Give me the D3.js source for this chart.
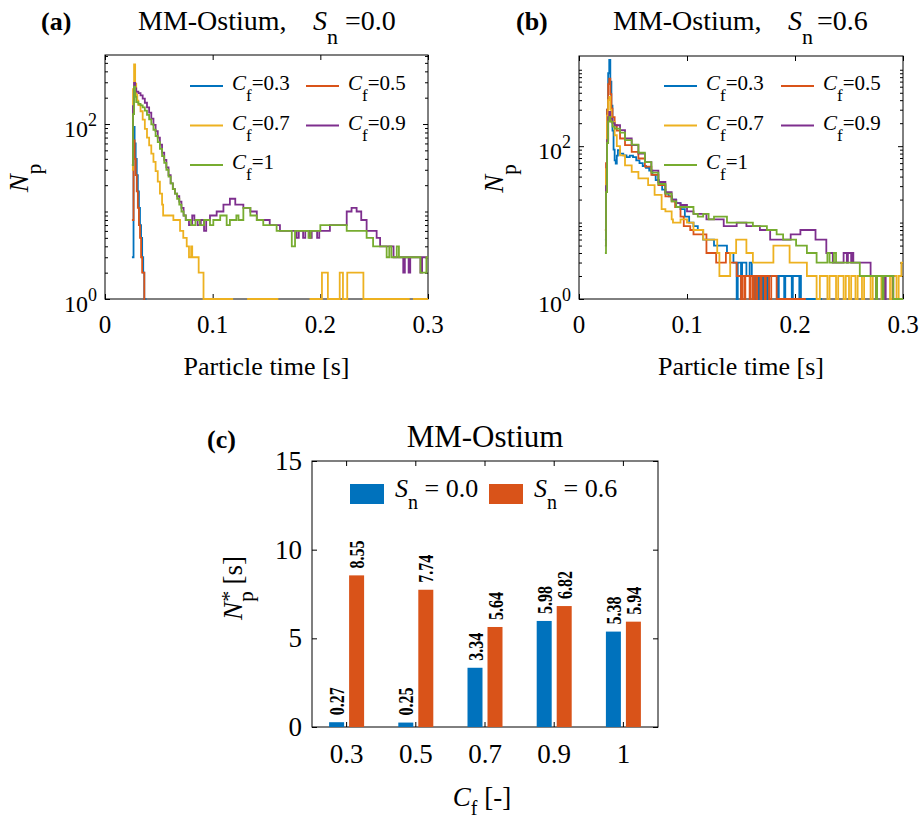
<!DOCTYPE html>
<html>
<head>
<meta charset="utf-8">
<script src="https://cdn.jsdelivr.net/npm/d3@7"></script>
<style>
  body { margin: 0; background: #fff; }
  svg text { font-family: "Liberation Serif", "Times New Roman", serif; fill: #000; }
</style>
</head>
<body>
<svg id="fig" width="919" height="822"></svg>
<script>
// ---- data ----
var cfNames = ["0.3", "0.5", "0.7", "0.9", "1"];
var lineColors = ["#0072BD", "#D95319", "#EDB120", "#7E2F8E", "#77AC30"];
var timeTicks = [0, 0.1, 0.2, 0.3];
var timeTickLabels = ["0", "0.1", "0.2", "0.3"];
var npTicks = [1, 100];
var npTickExp = ["0", "2"];

// panel (a), Sn = 0.0 : [time (s), particle count], null = no particles
var a03 = [[0.025,3],[0.0265,93],[0.0275,60],[0.0285,40],[0.0295,26],[0.0305,17],[0.0315,11],[0.0325,7],[0.0335,5],[0.0345,3],[0.0355,2],[0.0365,1],[0.0385,1]];
var a05 = [[0.025,8],[0.0265,65],[0.0275,40],[0.0285,26],[0.0295,17],[0.0305,11],[0.0315,7],[0.0325,5],[0.0335,3],[0.0345,2],[0.0355,2],[0.0365,1],[0.0375,1]];
var a07 = [[0.025,30],[0.026,250],[0.027,480],[0.028,290],[0.029,215],[0.030,185],[0.031,165],[0.033,140],[0.035,112],[0.037,88],[0.039,70],[0.041,57],[0.043,46],[0.045,37],[0.047,29],[0.049,22],[0.051,16],[0.053,12],[0.054,9],[0.0635,8],[0.0697,6],[0.0727,5],[0.0759,4],[0.078,3],[0.080,4],[0.081,3],[0.087,2],[0.0915,1],[0.119,1],[0.119,null],
  [0.132,1],[0.161,1],[0.161,null],[0.190,1],[0.2015,1],[0.2015,2],[0.207,1],[0.218,2],[0.221,1],[0.225,2],[0.240,1],[0.283,1],[0.283,null],[0.286,1],[0.300,1]];
var a09 = [[0.025,34],[0.026,160],[0.027,295],[0.028,255],[0.029,235],[0.031,225],[0.033,212],[0.035,195],[0.037,175],[0.039,155],[0.041,135],[0.043,115],[0.045,98],[0.047,83],[0.049,70],[0.051,58],[0.053,47],[0.055,39],[0.057,32],[0.059,26],[0.061,21],[0.063,18],[0.065,16],[0.067,15],[0.069,13],[0.071,11],[0.073,9],[0.075,8],[0.078,7],[0.081,9],[0.083,8],[0.086,7],[0.089,8],[0.092,6],[0.094,8],
  [0.0975,9],[0.1037,10],[0.110,12],[0.116,14],[0.121,12],[0.1285,11],[0.135,10],[0.141,8],[0.153,7],[0.1625,6],[0.178,5],[0.180,6],[0.184,5],[0.186,6],[0.190,5],[0.192,6],[0.197,5],[0.199,6],[0.2089,7],[0.2245,10],[0.229,11],[0.2337,10],[0.238,8],[0.243,6],[0.2523,5],[0.2555,4],[0.268,3],[0.277,2],[0.2785,3],[0.282,2],[0.2835,3],[0.293,2],[0.2945,3],[0.300,3]];
var a10 = [[0.025,34],[0.026,130],[0.027,268],[0.028,205],[0.029,178],[0.031,170],[0.033,163],[0.035,155],[0.037,142],[0.039,127],[0.041,113],[0.043,99],[0.045,86],[0.047,73],[0.049,62],[0.051,52],[0.053,43],[0.055,36],[0.057,30],[0.059,25],[0.061,21],[0.063,18],[0.065,16],[0.067,14],[0.069,12],[0.071,10],[0.073,9],[0.075,8],[0.080,7],[0.084,8],[0.088,7],[0.092,8],
  [0.0975,7],[0.1006,8],[0.107,9],[0.113,7],[0.116,8],[0.122,9],[0.124,8],[0.1285,11],[0.135,9],[0.141,8],[0.147,7],[0.1594,6],[0.1735,4],[0.1765,6],[0.189,5],[0.191,6],[0.200,7],[0.2245,6],[0.243,5],[0.249,4],[0.2616,3],[0.264,4],[0.266,3],[0.271,4],[0.273,3],[0.293,2],[0.2985,3],[0.300,3]];

// panel (b), Sn = 0.6
var b03 = [[0.024,6],[0.025,40],[0.026,300],[0.027,900],[0.028,1350],[0.029,700],[0.030,340],[0.031,160],[0.032,90],[0.033,65],[0.034,59],[0.035,75],[0.036,89],[0.038,80],[0.041,76],[0.044,72],[0.047,75],[0.050,72],[0.053,65],[0.056,60],[0.059,55],[0.062,52],[0.065,48],[0.068,42],[0.071,36],[0.074,31],[0.077,27],[0.080,24],[0.083,22],[0.086,20],[0.090,18],[0.094,15],[0.098,12],[0.102,10],[0.106,9],[0.110,8],[0.115,6],[0.125,5],[0.137,4],[0.143,3],
  [0.146,1],[0.147,3],[0.150,1],[0.151,3],[0.155,2],[0.158,3],[0.160,2],[0.162,1],[0.163,2],[0.166,1],[0.167,2],[0.170,1],[0.171,2],[0.174,1],[0.175,2],[0.184,1],[0.185,2],[0.190,1],[0.191,2],[0.197,1],[0.198,2],[0.204,1],[0.205,2],[0.2055,1],[0.225,1],[0.225,null]];
var b05 = [[0.024,8],[0.025,60],[0.026,300],[0.027,650],[0.028,767],[0.029,480],[0.030,310],[0.031,240],[0.033,188],[0.035,160],[0.038,126],[0.0426,103],[0.0488,84],[0.055,69],[0.061,54],[0.067,42],[0.0735,31],[0.080,22],[0.0858,19],[0.089,16],[0.094,12],[0.097,9],[0.103,8],[0.106,7],[0.118,4],[0.127,3],[0.136,4],[0.140,3],[0.146,2],
  [0.150,1],[0.151,2],[0.153,1],[0.154,2],[0.158,1],[0.159,2],[0.161,1],[0.162,2],[0.164,1],[0.165,2],[0.168,1],[0.169,2],[0.172,1],[0.173,2],[0.176,1],[0.178,2],[0.183,1],[0.210,1],[0.210,null]];
var b07 = [[0.024,8],[0.025,50],[0.026,250],[0.027,400],[0.028,441],[0.029,300],[0.030,208],[0.033,139],[0.035,100],[0.038,76],[0.0426,56],[0.0488,46],[0.055,38],[0.064,31],[0.070,23],[0.0765,15],[0.080,14],[0.0858,11],[0.087,10],[0.094,11],[0.100,10],[0.106,8],[0.115,6],[0.128,4],[0.130,2],[0.140,4],[0.1455,6],[0.155,4],[0.161,3],[0.180,5],[0.195,3],[0.211,2],
  [0.220,1],[0.223,2],[0.230,1],[0.232,2],[0.238,1],[0.240,2],[0.245,1],[0.247,2],[0.250,1],[0.252,2],[0.256,1],[0.258,2],[0.262,1],[0.264,2],[0.270,1],[0.272,2],[0.280,1],[0.282,2],[0.288,1],[0.290,2],[0.294,1],[0.296,2],[0.2985,3],[0.300,3]];
var b09 = [[0.024,5],[0.025,30],[0.026,120],[0.027,240],[0.028,280],[0.029,230],[0.031,200],[0.033,188],[0.038,162],[0.0426,126],[0.0488,103],[0.055,80],[0.061,62],[0.067,48],[0.0735,34],[0.080,25],[0.0858,20],[0.090,18],[0.094,17],[0.100,14],[0.106,13],[0.118,11],[0.134,9],[0.146,10],[0.155,9],[0.1675,8],[0.177,6],[0.196,7],[0.205,8],[0.219,6],
  [0.229,4],[0.235,3],[0.245,4],[0.248,3],[0.249,4],[0.252,3],[0.253,4],[0.254,3],[0.270,2],[0.275,1],[0.276,2],[0.283,1],[0.284,2],[0.291,1],[0.300,1]];
var b10 = [[0.024,4],[0.025,25],[0.026,110],[0.027,210],[0.028,241],[0.029,210],[0.031,180],[0.033,170],[0.038,150],[0.0426,120],[0.0488,105],[0.055,82],[0.061,62],[0.067,45],[0.0735,32],[0.080,24],[0.0858,19],[0.090,16],[0.106,13],[0.110,12],[0.115,13],[0.120,11],[0.125,12],[0.137,10],[0.161,9],[0.174,8],[0.183,7],[0.189,6],[0.201,5],[0.211,4],[0.220,3],
  [0.230,4],[0.232,3],[0.236,4],[0.238,3],[0.260,2],[0.275,1],[0.276,2],[0.280,2],[0.281,1],[0.282,2],[0.291,1],[0.300,1]];

// panel (c)
var barCats = ["0.3", "0.5", "0.7", "0.9", "1"];
var snNames = ["0.0", "0.6"];
var npStarSn00 = [0.27, 0.25, 3.34, 5.98, 5.38];
var npStarSn06 = [8.55, 7.74, 5.64, 6.82, 5.94];
var barColors = ["#0072BD", "#D95319"];
var barTicks = [0, 5, 10, 15];

// ---- drawing ----
var svg = d3.select("#fig");

// text with italic / sub / superscript pieces
function rich(parent, x, y, size, anchor, parts) {
  var t = parent.append("text")
    .attr("x", x).attr("y", y)
    .attr("font-size", size)
    .attr("text-anchor", anchor)
    .style("white-space", "pre");
  var cur = 0;
  parts.forEach(function(p) {
    var off = p.off || 0;
    var ts = t.append("tspan").text(p.t).attr("dy", off - cur);
    cur = off;
    if (p.size) ts.attr("font-size", p.size);
    if (p.it) ts.attr("font-style", "italic");
    if (p.b) ts.attr("font-weight", "bold");
    if (p.dx) ts.attr("dx", p.dx);
    if (p.x != null) ts.attr("x", p.x);
  });
  return t;
}

function innerTicks(g, axisFn, scale, values, len, tx, ty) {
  g.append("g")
    .attr("transform", "translate(" + tx + "," + ty + ")")
    .call(axisFn(scale).tickValues(values).tickSize(-len).tickSizeOuter(0).tickFormat(""))
    .call(function(s) { s.select(".domain").remove(); });
}

function logPanel(p) {
  var x = d3.scaleLinear().domain([0, 0.3]).range([p.left, p.right]);
  var y = d3.scaleLog().domain([1, p.ymax]).range([p.bottom, p.top]);
  var g = svg.append("g");

  g.append("clipPath").attr("id", p.id)
    .append("rect").attr("x", p.left).attr("y", p.top)
    .attr("width", p.right - p.left).attr("height", p.bottom - p.top + 1.5);

  g.append("rect")
    .attr("x", p.left).attr("y", p.top)
    .attr("width", p.right - p.left).attr("height", p.bottom - p.top)
    .attr("fill", "none").attr("stroke", "#000").attr("stroke-width", 1);

  var minor = y.ticks().filter(function(v) { return npTicks.indexOf(v) < 0; });
  innerTicks(g, d3.axisLeft, y, minor, 3, p.left, 0);
  innerTicks(g, d3.axisRight, y, minor, 3, p.right, 0);
  innerTicks(g, d3.axisLeft, y, npTicks, 5, p.left, 0);
  innerTicks(g, d3.axisRight, y, npTicks, 5, p.right, 0);
  innerTicks(g, d3.axisBottom, x, timeTicks, 5, 0, p.bottom);
  innerTicks(g, d3.axisTop, x, timeTicks, 5, 0, p.top);

  var line = d3.line()
    .defined(function(d) { return d[1] != null; })
    .x(function(d) { return x(d[0]); })
    .y(function(d) { return y(d[1]); })
    .curve(d3.curveStepAfter);

  g.append("g").attr("clip-path", "url(#" + p.id + ")")
    .selectAll("path").data(p.series).enter().append("path")
    .attr("d", line)
    .attr("fill", "none")
    .attr("stroke", function(d, i) { return lineColors[i]; })
    .attr("stroke-width", 1.8);

  // tick labels
  timeTicks.forEach(function(t, i) {
    g.append("text").attr("x", x(t)).attr("y", p.bottom + 34)
      .attr("font-size", 25).attr("text-anchor", "middle").text(timeTickLabels[i]);
  });
  npTicks.forEach(function(v, i) {
    rich(g, p.left - 8, y(v) + 13, 24, "end", [
      { t: "10" },
      { t: npTickExp[i], size: 18, off: -11 }
    ]);
  });

  // axis labels
  g.append("text").attr("x", (p.left + p.right) / 2).attr("y", p.bottom + 76)
    .attr("font-size", 26).attr("text-anchor", "middle").text("Particle time [s]");
  rich(g, 0, 0, 27, "middle", [
    { t: "N", it: true },
    { t: "p", size: 21, off: 13 }
  ]).attr("transform", "translate(" + p.ylabX + "," + ((p.top + p.bottom) / 2 + 1) + ") rotate(-90)");

  // title
  rich(g, p.titleX, 30, 28, "start", [
    { t: "MM-Ostium," },
    { t: "S", it: true, x: p.sX },
    { t: "n", size: 22, off: 14 },
    { t: "=" + p.sn, x: p.eqX }
  ]);
  g.append("text").attr("x", p.tagX).attr("y", 30)
    .attr("font-size", 26).attr("font-weight", "bold").text(p.tag);

  // legend (two columns)
  p.series.forEach(function(s, i) {
    var col = i % 2, row = Math.floor(i / 2);
    var lx = p.legX[col], ly = 86 + row * 39.5;
    g.append("line").attr("x1", lx).attr("x2", lx + 33).attr("y1", ly).attr("y2", ly)
      .attr("stroke", lineColors[i]).attr("stroke-width", 1.8);
    rich(g, lx + 42, ly + 4, 21, "start", [
      { t: "C", it: true },
      { t: "f", size: 17, off: 11 },
      { t: "=" + cfNames[i] }
    ]);
  });
}

logPanel({
  id: "clipA", left: 105, right: 428, top: 55, bottom: 299, ymax: 615,
  series: [a03, a05, a07, a09, a10], ylabX: 28,
  titleX: 138, sX: 313, eqX: 345, sn: "0.0", tag: "(a)", tagX: 41,
  legX: [190, 306]
});
logPanel({
  id: "clipB", left: 579, right: 903, top: 56, bottom: 299, ymax: 1514,
  series: [b03, b05, b07, b09, b10], ylabX: 503,
  titleX: 613, sX: 788, eqX: 817, sn: "0.6", tag: "(b)", tagX: 516,
  legX: [664, 781]
});

// ---- panel (c) ----
var cL = 312, cR = 658, cT = 461, cB = 727;
var xc = d3.scaleBand().domain(barCats).range([cL, cR]);
var xs = d3.scaleBand().domain(snNames)
  .range([xc.bandwidth() / 2 - 17.5, xc.bandwidth() / 2 + 17.5]).paddingInner(0.25);
var yc = d3.scaleLinear().domain([0, 15]).range([cB, cT]);
var gc = svg.append("g");

gc.append("rect").attr("x", cL).attr("y", cT).attr("width", cR - cL).attr("height", cB - cT)
  .attr("fill", "none").attr("stroke", "#000").attr("stroke-width", 1);
innerTicks(gc, d3.axisLeft, yc, barTicks, 5, cL, 0);
innerTicks(gc, d3.axisRight, yc, barTicks, 5, cR, 0);
innerTicks(gc, d3.axisBottom, xc, barCats, 5, 0, cB);
innerTicks(gc, d3.axisTop, xc, barCats, 5, 0, cT);

var barRows = [];
barCats.forEach(function(c, i) {
  barRows.push({ cat: c, sn: "0.0", v: npStarSn00[i], k: 0 });
  barRows.push({ cat: c, sn: "0.6", v: npStarSn06[i], k: 1 });
});

gc.selectAll(".bar").data(barRows).enter().append("rect")
  .attr("class", "bar")
  .attr("x", function(d) { return xc(d.cat) + xs(d.sn); })
  .attr("y", function(d) { return yc(d.v); })
  .attr("width", xs.bandwidth())
  .attr("height", function(d) { return cB - yc(d.v); })
  .attr("fill", function(d) { return barColors[d.k]; });

gc.selectAll(".val").data(barRows).enter().append("text")
  .attr("class", "val")
  .attr("transform", function(d) {
    var bx = xc(d.cat) + xs(d.sn) + xs.bandwidth() / 2 + 7.5;
    return "translate(" + bx + "," + (yc(d.v) - 7) + ") rotate(-90) scale(1,1.3)";
  })
  .attr("font-size", 16).attr("font-weight", "bold")
  .text(function(d) { return d.v.toFixed(2); });

barTicks.forEach(function(v) {
  gc.append("text").attr("x", cL - 10).attr("y", yc(v) + 9)
    .attr("font-size", 27).attr("text-anchor", "end").text(v);
});
barCats.forEach(function(c) {
  gc.append("text").attr("x", xc(c) + xc.bandwidth() / 2).attr("y", cB + 36)
    .attr("font-size", 27).attr("text-anchor", "middle").text(c);
});

gc.append("text").attr("x", 485).attr("y", 447)
  .attr("font-size", 31).attr("text-anchor", "middle").text("MM-Ostium");
gc.append("text").attr("x", 207).attr("y", 448)
  .attr("font-size", 26).attr("font-weight", "bold").text("(c)");

rich(gc, 482, 806, 27, "middle", [
  { t: "C", it: true },
  { t: "f", size: 20, off: 9 },
  { t: " [-]" }
]);
rich(gc, 0, 0, 27, "middle", [
  { t: "N", it: true },
  { t: "*", size: 22, off: -6 },
  { t: "p", size: 21, off: 11, dx: -11 },
  { t: " [s]" }
]).attr("transform", "translate(242,588) rotate(-90)");

// legend (c)
var legC = [350, 489];
snNames.forEach(function(s, i) {
  gc.append("rect").attr("x", legC[i]).attr("y", 484).attr("width", 34).attr("height", 20)
    .attr("fill", barColors[i]);
  rich(gc, legC[i] + 45, 497, 26, "start", [
    { t: "S", it: true },
    { t: "n", size: 20, off: 12 },
    { t: " = " + s }
  ]);
});
</script>
</body>
</html>
